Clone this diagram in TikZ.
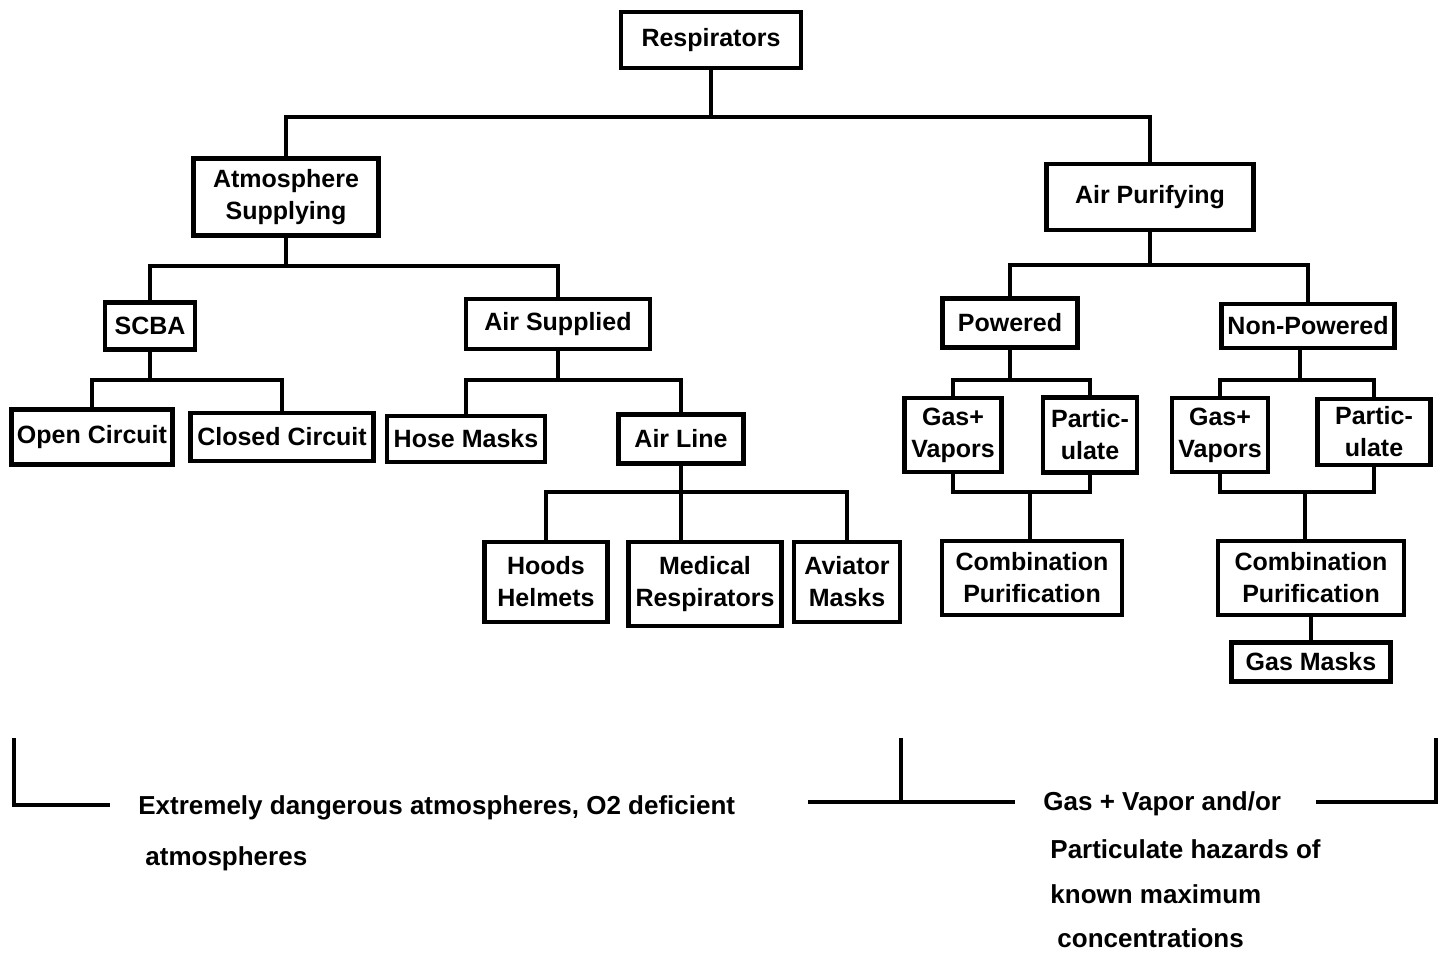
\documentclass[tikz,border=0pt]{standalone}
\usepackage{fontspec}
\setmainfont{Liberation Sans}
\begin{document}
\begin{tikzpicture}[x=0.5pt,y=-0.5pt,
  box/.style={draw, line width=2.2pt, inner sep=1pt, align=center, font=\fontsize{12.5}{16}\selectfont\bfseries},
  bsize/.style 2 args={minimum width=#1pt, minimum height=#2pt},
  link/.style={line width=2.2pt},
  bracket/.style={line width=2pt},
  note/.style={anchor=base west, inner sep=0pt, font=\fontsize{13}{16}\selectfont\bfseries}]
\useasboundingbox (0,0) rectangle (1441,956);

\node[box, bsize={90}{28}] (resp) at (711,40) {Respirators};

\node[box, bsize={92.5}{38.5}] (atmo) at (286,197) {Atmosphere\\Supplying};
\node[box, bsize={103.5}{33}] (airpur) at (1150,197) {Air Purifying};

\node[box, bsize={45}{23.5}] (scba) at (150,326) {SCBA};
\node[box, bsize={92}{25}] (airsup) at (558,324) {Air Supplied};
\node[box, bsize={67.5}{24.5}] (powered) at (1010,323) {Powered};
\node[box, bsize={86.5}{22}] (nonpow) at (1308,326) {Non-Powered};

\node[box, bsize={80.5}{27.5}] (open) at (92,437) {Open Circuit};
\node[box, bsize={91.5}{24}] (closed) at (282,437) {Closed Circuit};
\node[box, bsize={79}{23}] (hose) at (466,439) {Hose Masks};
\node[box, bsize={62.5}{24.5}] (airline) at (681,439) {Air Line};
\node[box, bsize={48.5}{37}] (gvp) at (953,435) {Gas+\\Vapors};
\node[box, bsize={47}{37.5}] (pap) at (1090,435) {Partic-\\ulate};
\node[box, bsize={48}{37}] (gvn) at (1220,435) {Gas+\\Vapors};
\node[box, bsize={56.5}{33}] (pan) at (1374,432) {Partic-\\ulate};

\node[box, bsize={61.5}{40}] (hoods) at (546,582) {Hoods\\Helmets};
\node[box, bsize={76.5}{42}] (medical) at (705,584) {Medical\\Respirators};
\node[box, bsize={53}{40}] (aviator) at (847,582) {Aviator\\Masks};
\node[box, bsize={90}{37}] (combp) at (1032,578) {Combination\\Purification};
\node[box, bsize={93}{37}] (combn) at (1311,578) {Combination\\Purification};
\node[box, bsize={79.5}{19.5}] (gasm) at (1311,662) {Gas Masks};

\coordinate (j0) at (711,117);
\coordinate (j1) at (286,266);
\coordinate (j2) at (150,380);
\coordinate (j3) at (558,380);
\coordinate (j4) at (681,492);
\coordinate (j5) at (1150,265);
\coordinate (j6) at (1010,380);
\coordinate (j7) at (1300,380);
\coordinate (j8) at (1030,492);
\coordinate (j9) at (1305,492);

\draw[link] (resp) -- (j0);
\draw[link] (atmo) |- (j0) -| (airpur);
\draw[link] (atmo) -- (j1);
\draw[link] (scba) |- (j1) -| (airsup);
\draw[link] (scba) -- (j2);
\draw[link] (open) |- (j2) -| (closed);
\draw[link] (airsup) -- (j3);
\draw[link] (hose) |- (j3) -| (airline);
\draw[link] (airline) -- (j4);
\draw[link] (hoods) |- (j4) -| (aviator);
\draw[link] (j4) -- (j4 |- medical.north);
\draw[link] (airpur) -- (j5);
\draw[link] (powered) |- (j5) -| (nonpow);
\draw[link] (powered) -- (j6);
\draw[link] (gvp) |- (j6) -| (pap);
\draw[link] (j7 |- nonpow.south) -- (j7);
\draw[link] (gvn) |- (j7) -| (pan);
\draw[link] (gvp) |- (j8) -| (pap);
\draw[link] (j8) -- (j8 |- combp.north);
\draw[link] (gvn) |- (j9) -| (pan);
\draw[link] (j9) -- (j9 |- combn.north);
\draw[link] (combn) -- (gasm);

\draw[bracket] (14,738) |- (110,805);
\draw[bracket] (808,802) -- (1015,802);
\draw[bracket] (901,738) -- (901,802);
\draw[bracket] (1316,802) -| (1436,738);

\node[note] (ext1) at (138,814) {Extremely dangerous atmospheres, O2 deficient};
\node[note] (ext2) at (145,865) {atmospheres};
\node[note] (gas1) at (1043,811) {Gas + Vapor and/or};
\node[note] (gas2) at (1050,858) {Particulate hazards of};
\node[note] (gas3) at (1050,903) {known maximum};
\node[note] (gas4) at (1057,947) {concentrations};
\end{tikzpicture}
\end{document}
